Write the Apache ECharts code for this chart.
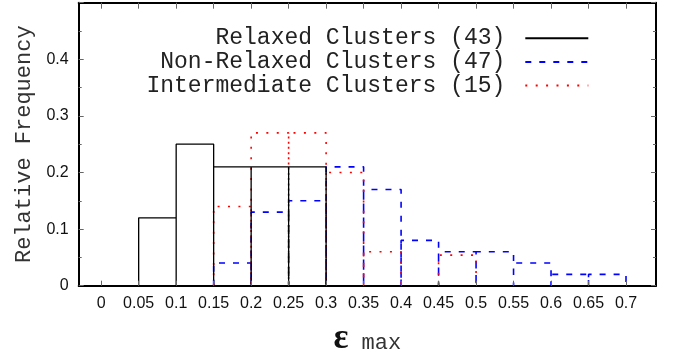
<!DOCTYPE html>
<html>
<head>
<meta charset="utf-8">
<script src="https://cdn.jsdelivr.net/npm/echarts@6/dist/echarts.min.js"></script>
<style>
html,body{margin:0;padding:0;background:#fff;}
#chart{width:675px;height:358px;}
</style>
</head>
<body>
<div id="chart"></div>
<script>
// Bin edges / x tick labels
const xTicks = [0, 0.05, 0.1, 0.15, 0.2, 0.25, 0.3, 0.35, 0.4, 0.45, 0.5, 0.55, 0.6, 0.65, 0.7];
// Relative frequency per bin (bin i spans xTicks[i]..xTicks[i+1])
const relaxed      = [0, 0.12, 0.25, 0.21, 0.21, 0.21, 0,    0,    0,    0,     0,    0,    0,    0   ];
const nonRelaxed   = [0, 0,    0,    0.04, 0.13, 0.15, 0.21, 0.17, 0.08, 0.06,  0.06, 0.04, 0.02, 0.02];
const intermediate = [0, 0,    0,    0.14, 0.27, 0.27, 0.20, 0.06, 0,    0.054, 0,    0,    0,    0   ];
const names = ['Relaxed Clusters (43)', 'Non-Relaxed Clusters (47)', 'Intermediate Clusters (15)'];

function boxesPath(vals) {
  const pts = [];
  for (let i = 0; i < vals.length; i++) {
    const v = vals[i];
    if (!v) continue;
    const x0 = xTicks[i], x1 = xTicks[i + 1];
    pts.push([x0, 0], [x0, v], [x1, v], [x1, 0]);
  }
  return pts;
}

const chart = echarts.init(document.getElementById('chart'), null, {renderer: 'canvas'});
const axisCol = '#000';
const option = {
  animation: false,
  backgroundColor: '#fff',
  grid: {left: 78.7, right: 19, top: 2.7, bottom: 72.3, containLabel: false, outerBoundsMode: 'none'},
  legend: {
    orient: 'vertical', align: 'right', right: 85.7, top: 26.5,
    itemWidth: 63, itemHeight: 14, itemGap: 0, padding: 0,
    data: names,
    itemStyle: {opacity: 0},
    textStyle: {fontFamily: 'Liberation Mono', fontSize: 23, color: '#222', lineHeight: 23.6, padding: [0, 15, 0, 0]}
  },
  xAxis: [{
    type: 'value', position: 'bottom', min: -0.03, max: 0.74, z: 10,
    axisLine: {show: true, onZero: false, lineStyle: {color: axisCol, width: 2}},
    axisTick: {show: true, inside: true, length: 5, customValues: xTicks, lineStyle: {color: '#666', width: 1}},
    axisLabel: {show: true, customValues: xTicks, formatter: v => String(v), fontFamily: 'Liberation Sans', fontSize: 16, color: '#111', margin: 10},
    splitLine: {show: false},
    name: '{e|ε}{m| max}', nameLocation: 'middle', nameGap: 36,
    nameTextStyle: {rich: {
      e: {fontFamily: 'Liberation Serif', fontSize: 35, color: '#111', fontWeight: 'bold'},
      m: {fontFamily: 'Liberation Mono', fontSize: 22, color: '#333', padding: [8, 0, 0, 0]}
    }}
  }, {
    type: 'value', position: 'top', min: -0.03, max: 0.74, z: 10,
    axisLine: {show: true, onZero: false, lineStyle: {color: axisCol, width: 2}},
    axisTick: {show: true, inside: true, length: 6, customValues: xTicks, lineStyle: {color: '#666', width: 1}},
    axisLabel: {show: false},
    splitLine: {show: false}
  }],
  yAxis: [{
    type: 'value', position: 'left', min: 0, max: 0.5, interval: 0.1, z: 10,
    axisLine: {show: true, onZero: false, lineStyle: {color: axisCol, width: 2}},
    axisTick: {show: true, inside: true, length: 5, lineStyle: {color: '#666', width: 1}},
    minorTick: {show: true, splitNumber: 2, length: 3, lineStyle: {color: '#666', width: 1}},
    axisLabel: {formatter: v => (v >= 0.45 ? '' : String(+v.toFixed(2))), fontFamily: 'Liberation Sans', fontSize: 16, color: '#111', margin: 10},
    splitLine: {show: false},
    name: 'Relative Frequency', nameLocation: 'middle', nameGap: 44,
    nameTextStyle: {fontFamily: 'Liberation Mono', fontSize: 22, color: '#333'}
  }, {
    type: 'value', position: 'right', min: 0, max: 0.5, interval: 0.1, z: 10,
    axisLine: {show: true, onZero: false, lineStyle: {color: axisCol, width: 2}},
    axisTick: {show: true, inside: true, length: 5, lineStyle: {color: '#666', width: 1}},
    minorTick: {show: true, splitNumber: 2, length: 3, lineStyle: {color: '#666', width: 1}},
    axisLabel: {show: false},
    splitLine: {show: false}
  }],
  series: [
    {name: names[1], type: 'line', data: boxesPath(nonRelaxed), symbol: 'none', color: '#0000ff',
     lineStyle: {color: '#0000ff', width: 1.6, type: [6, 8]}},
    {name: names[2], type: 'line', data: boxesPath(intermediate), symbol: 'none', color: '#ff0000',
     lineStyle: {color: '#ff0000', width: 1.6, type: [2, 8.4]}},
    {name: names[0], type: 'line', data: boxesPath(relaxed), symbol: 'none', color: '#000',
     lineStyle: {color: '#000', width: 1.3, type: 'solid'}}
  ]
};
chart.setOption(option);
</script>
</body>
</html>
